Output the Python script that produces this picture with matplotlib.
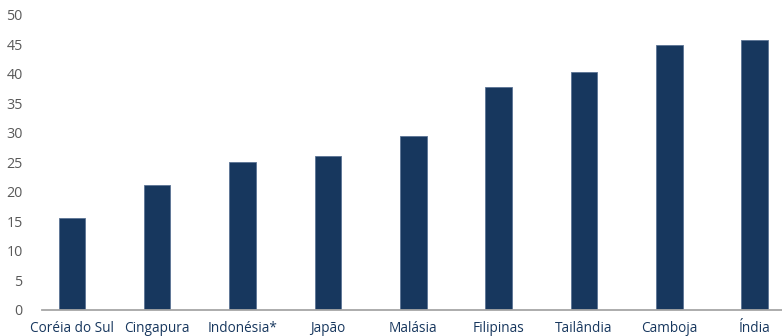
import matplotlib
matplotlib.use("Agg")
import matplotlib.pyplot as plt

categories = ["Coréia do Sul", "Cingapura", "Indonésia*", "Japão", "Malásia",
              "Filipinas", "Tailândia", "Camboja", "Índia"]
values = [15.5, 21.1, 25.0, 26.1, 29.5, 37.8, 40.3, 44.9, 45.7]
yticks = [0, 5, 10, 15, 20, 25, 30, 35, 40, 45, 50]

plt.rcParams['font.family'] = ['Open Sans', 'DejaVu Sans']

W, H = 782, 336
fig = plt.figure(figsize=(W / 100, H / 100), dpi=100)
ax = fig.add_axes([42 / W, 26.5 / H, (W - 42) / W, (309.5 - 15) / H])

bar_color = "#17375E"
x = range(len(categories))
ax.bar(x, values, width=0.31, color=bar_color, edgecolor="#5B7394", linewidth=0.6)

ax.set_xlim(-0.35, 8.32)
ax.set_ylim(0, 50)
ax.set_yticks(yticks)
ax.set_xticks(list(x))
ax.set_xticklabels(categories)

for s in ["top", "right", "left"]:
    ax.spines[s].set_visible(False)
ax.spines["bottom"].set_color("#A6A6A6")
ax.spines["bottom"].set_linewidth(1.3)

ax.tick_params(axis="y", length=0, pad=14, labelsize=10.3, labelcolor="#595959")
ax.tick_params(axis="x", length=0, pad=8, labelsize=9.8, labelcolor="#17375E")

fig.savefig("out.png", dpi=100)
